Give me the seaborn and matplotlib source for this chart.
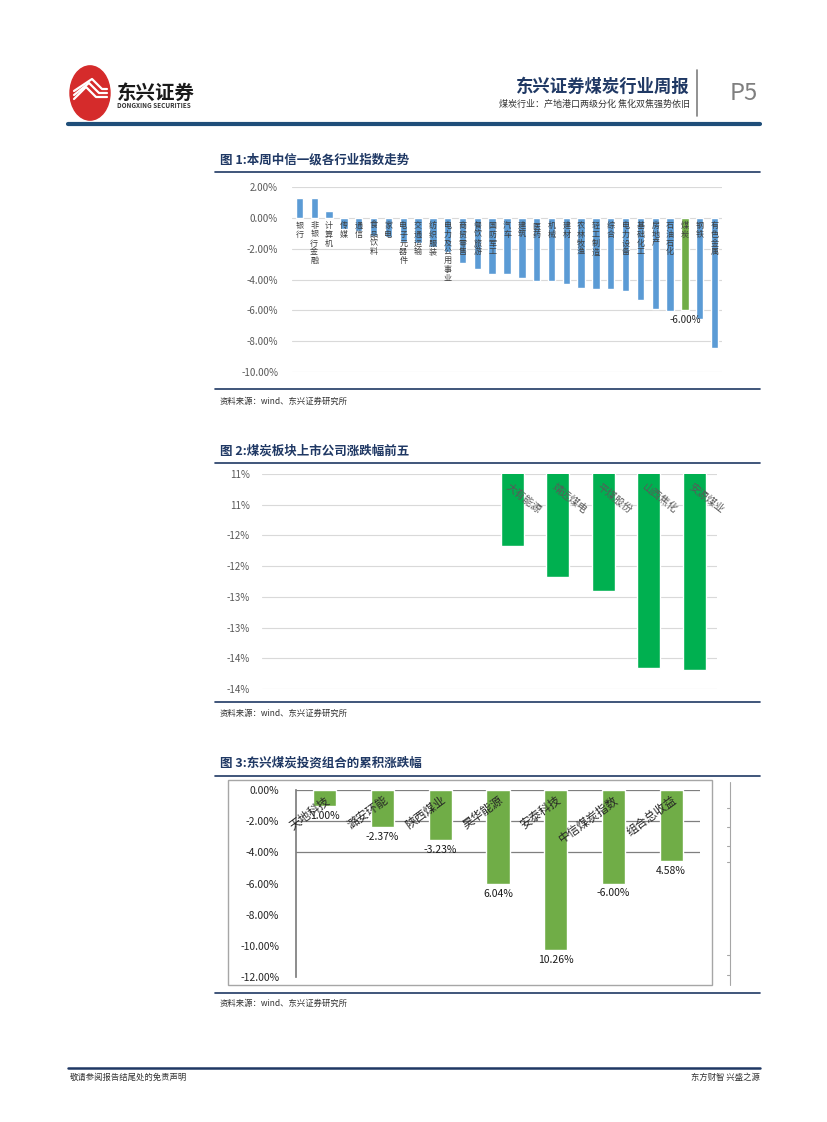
import numpy as np
import pandas as pd
import seaborn as sns
from matplotlib import pyplot as plt
from matplotlib.patches import Circle, Rectangle
from matplotlib.lines import Line2D

# ---------- 数据 ----------
# 图1: 中信一级行业周涨跌幅 (%)
hangye = ['银行', '非银行金融', '计算机', '传媒', '通信', '食品饮料', '家电', '电子元器件',
          '交通运输', '纺织服装', '电力及公用事业', '商贸零售', '餐饮旅游', '国防军工', '汽车',
          '建筑', '医药', '机械', '建材', '农林牧渔', '轻工制造', '综合', '电力设备',
          '基础化工', '房地产', '石油石化', '煤炭', '钢铁', '有色金属']
hangye_zdf = [1.28, 1.28, 0.44, -0.75, -0.85, -1.20, -1.25, -1.55, -1.60, -1.90, -2.20,
              -2.96, -3.33, -3.62, -3.62, -3.88, -4.08, -4.08, -4.28, -4.54, -4.60, -4.60,
              -4.74, -5.33, -5.92, -6.05, -6.00, -6.58, -8.42]

# 图2: 煤炭板块涨跌幅前五 (%)
gongsi = ['大有能源', '靖远煤电', '平煤股份', '山西焦化', '安源煤业']
gongsi_zdf = [-11.77, -12.27, -12.50, -13.76, -13.79]
g2_ticks = [-10.6, -11.1, -11.6, -12.1, -12.6, -13.1, -13.6, -14.1]
g2_ticklabels = ['11%', '11%', '-12%', '-12%', '-13%', '-13%', '-14%', '-14%']

# 图3: 东兴煤炭投资组合累积涨跌幅 (%)
zuhe = ['天地科技', '潞安环能', '陕西煤业', '昊华能源', '安泰科技', '中信煤炭指数', '组合总收益']
zuhe_zdf = [-1.00, -2.37, -3.23, -6.04, -10.26, -6.00, -4.58]
zuhe_biaoqian = ['1.00%', '-2.37%', '-3.23%', '6.04%', '10.26%', '-6.00%', '4.58%']

# ---------- 样式 ----------
sns.set_theme(style='white')
plt.rcParams['font.family'] = ['Noto Sans CJK SC', 'DejaVu Sans']

W, H = 827, 1122
NAVY = '#1F3864'
fig = plt.figure(figsize=(W / 100, H / 100), dpi=100)


def fx(x):
    return x / W


def fy(y):
    return 1 - y / H


def ax_px(left, top, right, bottom):
    return fig.add_axes([fx(left), fy(bottom), (right - left) / W, (bottom - top) / H])


def hline(y, x0, x1, color=NAVY, lw=1.0):
    fig.add_artist(Line2D([fx(x0), fx(x1)], [fy(y), fy(y)], color=color, lw=lw))


def txt(x, y, s, **kw):
    fig.text(fx(x), fy(y), s, **kw)


# ---------- 页眉 ----------
fig.add_artist(Circle((fx(90), fy(93)), 20 / W, transform=fig.transFigure, color='#D52B2B'))
for k in range(3):
    fig.add_artist(Line2D([fx(74), fx(86 + k * 3), fx(96 + k * 3), fx(107)],
                          [fy(99 - k * 4), fy(87 - k * 4), fy(97 - k * 4), fy(97 - k * 4)],
                          color='white', lw=1.6))
txt(117, 93, '东兴证券', fontsize=14, fontweight='bold', color='#1a1a1a', va='center')
txt(117, 105, 'DONGXING SECURITIES', fontsize=4.6, fontweight='bold', color='#333333', va='center')
txt(690, 87, '东兴证券煤炭行业周报', fontsize=12.5, fontweight='bold', color=NAVY, ha='right', va='center')
txt(690, 104, '煤炭行业：产地港口两级分化 焦化双焦强势依旧', fontsize=6.5, color='#333333',
    ha='right', va='center')
fig.add_artist(Line2D([fx(697), fx(697)], [fy(70), fy(116)], color='#7F7F7F', lw=1.2))
txt(744, 94, 'P5', fontsize=17, color='#7F7F7F', ha='center', va='center')
hline(124, 68, 760, color='#1F4E79', lw=3)


def fig_frame(title, y_title, y_line, y_bottom, y_src):
    txt(220, y_title, title, fontsize=9, fontweight='bold', color=NAVY, va='center')
    hline(y_line, 215, 760, lw=1.2)
    hline(y_bottom, 215, 760, lw=1.2)
    txt(220, y_src, '资料来源：wind、东兴证券研究所', fontsize=6, color='#333333', va='center',
        style='italic')


# ---------- 图1 ----------
fig_frame('图 1:本周中信一级各行业指数走势', 160, 172, 389, 401)
ax1 = ax_px(292, 187, 722, 372)
df1 = pd.DataFrame({'hangye': hangye, 'zdf': hangye_zdf})
pal1 = {h: ('#70AD47' if h == '煤炭' else '#5B9BD5') for h in hangye}
sns.barplot(data=df1, x='hangye', y='zdf', hue='hangye', palette=pal1, legend=False,
            width=0.5, ax=ax1, order=hangye, saturation=1)
ax1.set_ylim(-10, 2)
ax1.set_yticks(np.arange(-10, 2.1, 2))
ax1.set_yticklabels([f'{v:.2f}%' for v in np.arange(-10, 2.1, 2)], fontsize=7, color='#595959')
ax1.set_xticks([])
ax1.set_xlabel('')
ax1.set_ylabel('')
ax1.set_xlim(-0.5, len(hangye) - 0.5)
ax1.yaxis.grid(True, color='#D9D9D9', lw=0.8)
ax1.set_axisbelow(True)
ax1.tick_params(axis='y', length=0, pad=10)
for s in ax1.spines.values():
    s.set_visible(False)
for i, h in enumerate(hangye):
    ax1.annotate('\n'.join(h), xy=(i, 0), xytext=(0, -3), textcoords='offset pixels',
                 ha='center', va='top', fontsize=5.8, color='#404040', linespacing=0.98)
i_mt = hangye.index('煤炭')
ax1.annotate(f'{hangye_zdf[i_mt]:.2f}%', xy=(i_mt, hangye_zdf[i_mt]), xytext=(0, -5),
             textcoords='offset pixels', ha='center', va='top', fontsize=7, color='#262626')

# ---------- 图2 ----------
fig_frame('图 2:煤炭板块上市公司涨跌幅前五', 451, 463, 702, 713)
ax2 = ax_px(262, 474, 717, 689)
slots = [' ' * (k + 1) for k in range(5)] + gongsi
sns.barplot(x=gongsi, y=gongsi_zdf, order=slots, color='#00B050', width=0.5, ax=ax2,
            saturation=1)
ax2.set_ylim(g2_ticks[-1], g2_ticks[0])
ax2.set_yticks(g2_ticks)
ax2.set_yticklabels(g2_ticklabels, fontsize=7, color='#595959')
ax2.set_xticks([])
ax2.set_xlim(-0.5, len(slots) - 0.5)
ax2.yaxis.grid(True, color='#D9D9D9', lw=0.8)
ax2.set_axisbelow(True)
ax2.tick_params(axis='y', length=0, pad=9)
for s in ax2.spines.values():
    s.set_visible(False)
for i, g in enumerate(gongsi):
    ax2.annotate(g, xy=(i + 5, g2_ticks[0]), xytext=(-5, -12), textcoords='offset pixels',
                 ha='left', va='center', rotation=-38, rotation_mode='anchor',
                 fontsize=7.5, color='#595959')

# ---------- 图3 ----------
fig_frame('图 3:东兴煤炭投资组合的累积涨跌幅', 763, 776, 993, 1003)
fig.add_artist(Rectangle((fx(228), fy(985)), (712 - 228) / W, (985 - 780) / H,
                         transform=fig.transFigure, fill=False, ec='#A6A6A6', lw=1))
fig.add_artist(Line2D([fx(730), fx(730)], [fy(782), fy(985)], color='#A6A6A6', lw=0.8))
for yy in [808, 827, 846, 862, 955, 975]:
    fig.add_artist(Line2D([fx(727), fx(730)], [fy(yy), fy(yy)], color='#A6A6A6', lw=0.8))
ax3 = ax_px(296, 790, 700, 977)
sns.barplot(x=zuhe, y=zuhe_zdf, order=zuhe, color='#70AD47', width=0.4, ax=ax3, saturation=1)
ax3.set_ylim(-12, 0)
ax3.set_yticks(np.arange(-12, 0.1, 2))
ax3.set_yticklabels([f'{v:.2f}%' for v in np.arange(-12, 0.1, 2)], fontsize=7.5, color='#262626')
ax3.set_xticks([])
ax3.set_xlim(-0.5, len(zuhe) - 0.5)
ax3.tick_params(axis='y', length=0, pad=12)
for yv in [0, -2, -4]:
    ax3.axhline(yv, color='#7F7F7F', lw=0.9, zorder=0)
for k, s in ax3.spines.items():
    s.set_visible(k == 'left')
ax3.spines['left'].set_color('#7F7F7F')
for i, z in enumerate(zuhe):
    ax3.annotate(z, xy=(i, 0), xytext=(4, -9), textcoords='offset pixels',
                 ha='right', va='center', rotation=36, rotation_mode='anchor',
                 fontsize=8.5, color='#262626', zorder=5)
    ax3.annotate(zuhe_biaoqian[i], xy=(i, zuhe_zdf[i]), xytext=(0, -5),
                 textcoords='offset pixels', ha='center', va='top', fontsize=7.5, color='#1a1a1a')

# ---------- 页脚 ----------
hline(1068, 68, 760, color='#1F3864', lw=1.8)
txt(70, 1077, '敬请参阅报告结尾处的免责声明', fontsize=6, color='#333333', va='center')
txt(760, 1077, '东方财智 兴盛之源', fontsize=6, color='#333333', va='center', ha='right')

fig.savefig('out.png', dpi=100)
